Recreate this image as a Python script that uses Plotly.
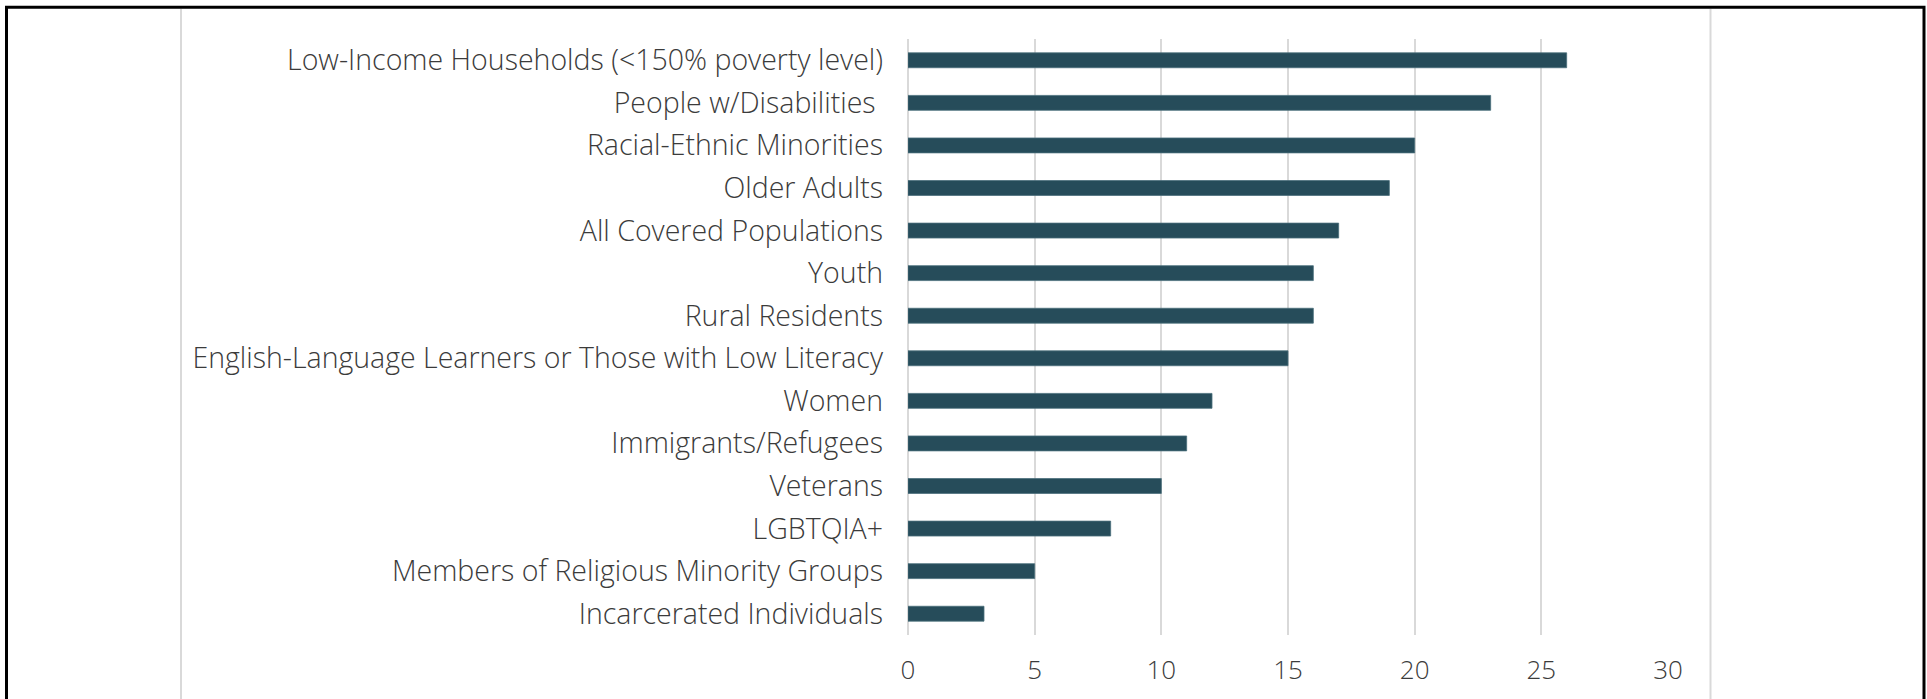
import plotly.graph_objects as go

# Covered populations and the number of responses naming each one
categories = [
    "Low-Income Households (<150% poverty level)",
    "People w/Disabilities\u00a0",
    "Racial-Ethnic Minorities",
    "Older Adults",
    "All Covered Populations",
    "Youth",
    "Rural Residents",
    "English-Language Learners or Those with Low Literacy",
    "Women",
    "Immigrants/Refugees",
    "Veterans",
    "LGBTQIA+",
    "Members of Religious Minority Groups",
    "Incarcerated Individuals",
]
counts = [26, 23, 20, 19, 17, 16, 16, 15, 12, 11, 10, 8, 5, 3]
tick_values = [0, 5, 10, 15, 20, 25, 30]

W, H = 1927, 699
M_L, M_R, M_T, M_B = 908, 259, 38.5, 59.5
PW, PH = W - M_L - M_R, H - M_T - M_B


def px(x):
    return (x - M_L) / PW


def py(y):
    return 1 - (y - M_T) / PH


FONT = "Open Sans"
TEXT = "#3b3b3b"
GRID = "#d9d9d9"

fig = go.Figure(
    go.Bar(
        x=counts,
        y=categories,
        orientation="h",
        marker=dict(color="#264c5a", line=dict(color="#4a6e7b", width=0.8)),
        hoverinfo="x+y",
    )
)

shapes = [
    # panel column dividers
    dict(type="line", xref="paper", yref="paper", x0=px(181), x1=px(181),
         y0=py(8), y1=py(H + 5), line=dict(color=GRID, width=2)),
    dict(type="line", xref="paper", yref="paper", x0=px(1710.5), x1=px(1710.5),
         y0=py(8), y1=py(H + 5), line=dict(color=GRID, width=2)),
    # outer frame
    dict(type="rect", xref="paper", yref="paper", x0=px(6.5), x1=px(1924),
         y0=py(6.5), y1=py(H + 20), line=dict(color="#000000", width=3),
         fillcolor="rgba(0,0,0,0)"),
]

fig.update_layout(
    width=W,
    height=H,
    margin=dict(l=M_L, r=M_R, t=M_T, b=M_B, pad=0),
    paper_bgcolor="white",
    plot_bgcolor="white",
    bargap=0.65,
    showlegend=False,
    font=dict(family=FONT, size=26, color=TEXT, weight=300),
    shapes=shapes,
    xaxis=dict(
        range=[0, 30],
        tickvals=tick_values,
        showgrid=True,
        gridcolor=GRID,
        gridwidth=2,
        zeroline=True,
        zerolinecolor=GRID,
        zerolinewidth=2,
        showline=False,
        ticks="",
        ticklabelstandoff=17,
        tickfont=dict(family=FONT, size=26, color=TEXT, weight=300),
        fixedrange=True,
    ),
    yaxis=dict(
        categoryorder="array",
        categoryarray=categories[::-1],
        showgrid=False,
        zeroline=False,
        showline=False,
        ticks="",
        ticklabelstandoff=24,
        tickfont=dict(family=FONT, size=28.5, color=TEXT, weight=300),
        fixedrange=True,
    ),
)

fig.write_html("out.html")
